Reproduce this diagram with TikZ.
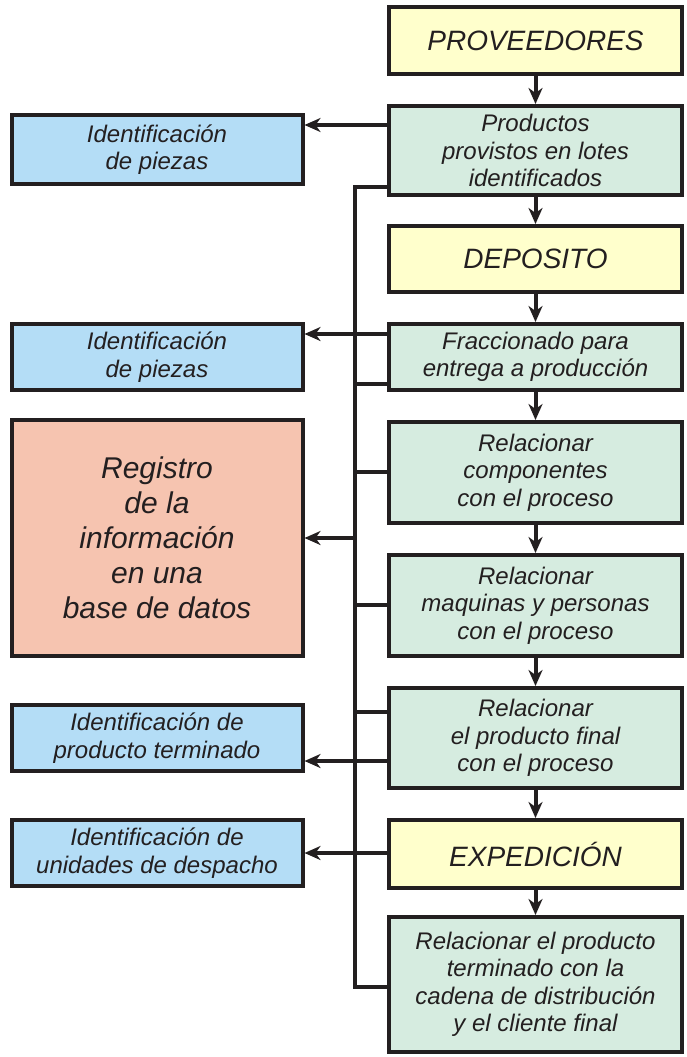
\documentclass[tikz,border=0pt]{standalone}
\usepackage{fontspec}
\setmainfont{Liberation Sans}
\usetikzlibrary{arrows.meta}
\tikzset{>={Stealth[length=16pt,width=14pt,inset=5pt]}}
\definecolor{linecol}{RGB}{35,31,32}
\definecolor{ylwcol}{RGB}{255,255,204}
\definecolor{grncol}{RGB}{214,236,224}
\definecolor{blucol}{RGB}{180,221,246}
\definecolor{salcol}{RGB}{246,196,176}
\tikzstyle{box}=[draw=linecol,line width=4pt,inner sep=0pt,align=center,
                 text=linecol,font=\itshape\fontsize{24}{27.5}\selectfont]
\tikzstyle{rbox}=[box,minimum width=293pt]
\tikzstyle{lbox}=[box,minimum width=291pt,fill=blucol]
\tikzstyle{stage}=[rbox,fill=ylwcol,font=\itshape\fontsize{28}{32}\selectfont]
\tikzstyle{flow}=[->,line width=4pt,linecol]
\tikzstyle{bus}=[line width=3.5pt,linecol]

\begin{document}
\begin{tikzpicture}[x=1pt,y=-1pt]
  \useasboundingbox (0,0) rectangle (686,1057);

  % RIGHT COLUMN
  \node[stage,minimum height=67pt] (prov) at (535.5,40.5) {PROVEEDORES};
  \node[rbox,fill=grncol,minimum height=89pt] (lotes) at (535.5,150.5)
    {Productos\\provistos en lotes\\identificados};
  \node[stage,minimum height=66pt] (depo) at (535.5,259) {DEPOSITO};
  \node[rbox,fill=grncol,minimum height=66pt] (fracc) at (535.5,357)
    {Fraccionado para\\entrega a producción};
  \node[rbox,fill=grncol,minimum height=101pt] (comp) at (535.5,472.5)
    {Relacionar\\componentes\\con el proceso};
  \node[rbox,fill=grncol,minimum height=101pt] (maq) at (535.5,605.5)
    {Relacionar\\maquinas y personas\\con el proceso};
  \node[rbox,fill=grncol,minimum height=100pt] (final) at (535.5,738)
    {Relacionar\\el producto final\\con el proceso};
  \node[stage,minimum height=68pt] (exped) at (535.5,854) {EXPEDICIÓN};
  \node[rbox,fill=grncol,minimum height=135pt] (cadena) at (535.5,984.5)
    {Relacionar el producto\\terminado con la\\cadena de distribución\\y el cliente final};

  % LEFT COLUMN
  \node[lbox,minimum height=69pt] (piezasA) at (157,149.5)
    {Identificación\\de piezas};
  \node[lbox,minimum height=66pt] (piezasB) at (157,357)
    {Identificación\\de piezas};
  \node[box,fill=salcol,minimum width=291pt,minimum height=236pt,
        font=\itshape\fontsize{30}{35}\selectfont] (datos) at (157,538)
    {Registro\\de la\\información\\en una\\base de datos};
  \node[lbox,minimum height=66pt] (term) at (157,738)
    {Identificación de\\producto terminado};
  \node[lbox,minimum height=66pt] (desp) at (157,853)
    {Identificación de\\unidades de despacho};

  % MAIN FLOW
  \foreach \a/\b in {prov/lotes,lotes/depo,depo/fracc,fracc/comp,
                     comp/maq,maq/final,final/exped,exped/cadena}{
    \draw[flow] (\a.south) -- (\b.north);
  }

  % BUS
  \coordinate (bustop) at (355,187);
  \coordinate (busbot) at (355,987);
  \draw[bus] (lotes.west |- bustop) -- (bustop) -- (busbot)
    -- (cadena.west |- busbot);
  \foreach \n/\y in {fracc/384,comp/472,maq/605,final/712}{
    \draw[bus] (355,\y) -- (\n.west |- 0,\y);
  }

  % IDENTIFICATION
  \draw[flow] (lotes.west |- 0,125) -- (piezasA.east |- 0,125);
  \draw[flow] (fracc.west |- 0,334) -- (piezasB.east |- 0,334);
  \draw[flow] (355,538) -- (datos.east |- 0,538);
  \draw[flow] (final.west |- 0,761) -- (term.east |- 0,761);
  \draw[flow] (exped.west |- desp.east) -- (desp.east);

\end{tikzpicture}
\end{document}
